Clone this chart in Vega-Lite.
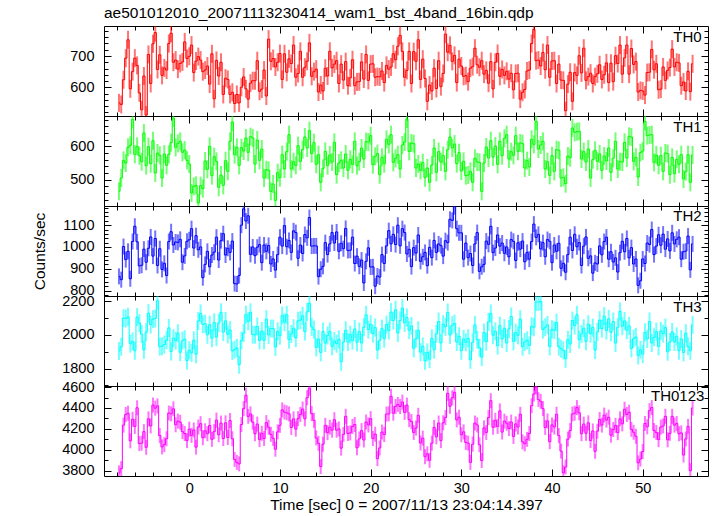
{
"$schema": "https://vega.github.io/schema/vega-lite/v6.json",
"padding": {"left": 32, "top": 5, "right": 7, "bottom": 0},
"spacing": 0,
"bounds": "flush",
"data": {"values": [
{"t":-7.75,"a":550,"b":465,"c":865,"d":1905,"e":3780},
{"t":-7.5,"a":545,"b":505,"c":850,"d":1930,"e":3820},
{"t":-7.25,"a":624,"b":558,"c":1002,"d":2100,"e":4236},
{"t":-7.0,"a":693,"b":550,"c":942,"d":2098,"e":4338},
{"t":-6.75,"a":752,"b":597,"c":980,"d":2108,"e":4350},
{"t":-6.5,"a":595,"b":603,"c":854,"d":1948,"e":4086},
{"t":-6.25,"a":650,"b":681,"c":1025,"d":1962,"e":4292},
{"t":-6.0,"a":693,"b":576,"c":1095,"d":1906,"e":4224},
{"t":-5.75,"a":670,"b":600,"c":1024,"d":2106,"e":4402},
{"t":-5.5,"a":582,"b":572,"c":913,"d":2071,"e":4060},
{"t":-5.25,"a":528,"b":554,"c":916,"d":2005,"e":4064},
{"t":-5.0,"a":636,"b":640,"c":990,"d":1912,"e":4174},
{"t":-4.75,"a":511,"b":542,"c":930,"d":2016,"e":4024},
{"t":-4.5,"a":705,"b":599,"c":994,"d":2130,"e":4296},
{"t":-4.25,"a":612,"b":548,"c":1046,"d":2062,"e":4228},
{"t":-4.0,"a":739,"b":617,"c":958,"d":2094,"e":4428},
{"t":-3.75,"a":775,"b":520,"c":1039,"d":2098,"e":4398},
{"t":-3.5,"a":657,"b":580,"c":915,"d":2204,"e":4420},
{"t":-3.25,"a":704,"b":573,"c":992,"d":1930,"e":4136},
{"t":-3.0,"a":638,"b":505,"c":897,"d":1933,"e":4028},
{"t":-2.75,"a":662,"b":577,"c":925,"d":1943,"e":4050},
{"t":-2.5,"a":655,"b":543,"c":869,"d":1968,"e":4106},
{"t":-2.25,"a":740,"b":576,"c":1025,"d":2042,"e":4352},
{"t":-2.0,"a":773,"b":611,"c":1070,"d":1901,"e":4344},
{"t":-1.75,"a":680,"b":685,"c":1009,"d":1981,"e":4392},
{"t":-1.5,"a":687,"b":597,"c":1023,"d":1966,"e":4240},
{"t":-1.25,"a":658,"b":609,"c":1021,"d":2010,"e":4274},
{"t":-1.0,"a":676,"b":615,"c":1035,"d":1897,"e":4264},
{"t":-0.75,"a":681,"b":582,"c":930,"d":1966,"e":4174},
{"t":-0.5,"a":745,"b":589,"c":959,"d":1975,"e":4156},
{"t":-0.25,"a":692,"b":558,"c":1026,"d":1847,"e":4088},
{"t":0.0,"a":699,"b":547,"c":1033,"d":1909,"e":4198},
{"t":0.25,"a":735,"b":460,"c":1084,"d":1893,"e":4138},
{"t":0.5,"a":647,"b":480,"c":995,"d":1969,"e":4190},
{"t":0.75,"a":684,"b":483,"c":1052,"d":1885,"e":4026},
{"t":1.0,"a":698,"b":430,"c":987,"d":2083,"e":4218},
{"t":1.25,"a":687,"b":482,"c":1000,"d":2128,"e":4250},
{"t":1.5,"a":650,"b":473,"c":859,"d":2063,"e":4116},
{"t":1.75,"a":655,"b":556,"c":920,"d":2067,"e":4182},
{"t":2.0,"a":668,"b":531,"c":980,"d":2001,"e":4154},
{"t":2.25,"a":610,"b":600,"c":909,"d":2061,"e":4232},
{"t":2.5,"a":707,"b":512,"c":963,"d":1981,"e":4100},
{"t":2.75,"a":563,"b":569,"c":976,"d":2075,"e":4174},
{"t":3.0,"a":686,"b":555,"c":1045,"d":1987,"e":4284},
{"t":3.25,"a":636,"b":477,"c":940,"d":2071,"e":4144},
{"t":3.5,"a":680,"b":514,"c":1029,"d":2135,"e":4256},
{"t":3.75,"a":577,"b":483,"c":1061,"d":2017,"e":4108},
{"t":4.0,"a":629,"b":557,"c":963,"d":2084,"e":4258},
{"t":4.25,"a":625,"b":525,"c":994,"d":2003,"e":4118},
{"t":4.5,"a":577,"b":615,"c":975,"d":2029,"e":4280},
{"t":4.75,"a":584,"b":673,"c":1027,"d":1905,"e":4106},
{"t":5.0,"a":548,"b":575,"c":832,"d":1913,"e":3908},
{"t":5.25,"a":577,"b":597,"c":830,"d":1923,"e":3880},
{"t":5.5,"a":550,"b":543,"c":869,"d":1823,"e":3866},
{"t":5.75,"a":600,"b":596,"c":1100,"d":1967,"e":4242},
{"t":6.0,"a":633,"b":586,"c":1175,"d":2011,"e":4394},
{"t":6.25,"a":595,"b":625,"c":1119,"d":2121,"e":4522},
{"t":6.5,"a":562,"b":582,"c":1143,"d":2081,"e":4320},
{"t":6.75,"a":613,"b":629,"c":966,"d":2135,"e":4344},
{"t":7.0,"a":621,"b":625,"c":1000,"d":2002,"e":4264},
{"t":7.25,"a":621,"b":547,"c":960,"d":2001,"e":4154},
{"t":7.5,"a":685,"b":619,"c":999,"d":2050,"e":4246},
{"t":7.75,"a":587,"b":558,"c":1011,"d":1967,"e":4098},
{"t":8.0,"a":594,"b":592,"c":928,"d":2024,"e":4158},
{"t":8.25,"a":655,"b":505,"c":1009,"d":1968,"e":4108},
{"t":8.5,"a":572,"b":530,"c":980,"d":2094,"e":4260},
{"t":8.75,"a":754,"b":528,"c":1007,"d":2000,"e":4216},
{"t":9.0,"a":683,"b":465,"c":922,"d":2038,"e":4148},
{"t":9.25,"a":692,"b":487,"c":945,"d":2038,"e":4110},
{"t":9.5,"a":665,"b":438,"c":894,"d":1928,"e":4006},
{"t":9.75,"a":680,"b":521,"c":965,"d":2022,"e":4172},
{"t":10.0,"a":708,"b":506,"c":1045,"d":1996,"e":4234},
{"t":10.25,"a":625,"b":575,"c":1004,"d":2116,"e":4382},
{"t":10.5,"a":707,"b":532,"c":1098,"d":2076,"e":4360},
{"t":10.75,"a":648,"b":584,"c":1001,"d":2120,"e":4354},
{"t":11.0,"a":691,"b":635,"c":1030,"d":1972,"e":4344},
{"t":11.25,"a":676,"b":532,"c":975,"d":2006,"e":4214},
{"t":11.5,"a":735,"b":554,"c":1074,"d":2040,"e":4296},
{"t":11.75,"a":632,"b":543,"c":1066,"d":1982,"e":4198},
{"t":12.0,"a":644,"b":602,"c":948,"d":2084,"e":4298},
{"t":12.25,"a":715,"b":555,"c":1009,"d":2088,"e":4338},
{"t":12.5,"a":632,"b":590,"c":970,"d":2114,"e":4390},
{"t":12.75,"a":664,"b":628,"c":1057,"d":2020,"e":4296},
{"t":13.0,"a":683,"b":595,"c":1042,"d":2138,"e":4498},
{"t":13.25,"a":742,"b":647,"c":1135,"d":2188,"e":4590},
{"t":13.5,"a":635,"b":578,"c":1004,"d":2048,"e":4346},
{"t":13.75,"a":650,"b":611,"c":1005,"d":2032,"e":4282},
{"t":14.0,"a":658,"b":546,"c":1005,"d":1926,"e":4114},
{"t":14.25,"a":585,"b":575,"c":864,"d":1976,"e":4062},
{"t":14.5,"a":607,"b":492,"c":898,"d":1896,"e":3840},
{"t":14.75,"a":588,"b":534,"c":911,"d":2020,"e":4054},
{"t":15.0,"a":661,"b":585,"c":1020,"d":1952,"e":4234},
{"t":15.25,"a":636,"b":542,"c":965,"d":1996,"e":4164},
{"t":15.5,"a":715,"b":574,"c":1014,"d":2020,"e":4216},
{"t":15.75,"a":662,"b":553,"c":1066,"d":1932,"e":4188},
{"t":16.0,"a":674,"b":612,"c":1018,"d":1964,"e":4288},
{"t":16.25,"a":685,"b":515,"c":1069,"d":1948,"e":4188},
{"t":16.5,"a":612,"b":550,"c":980,"d":1974,"e":4200},
{"t":16.75,"a":674,"b":558,"c":1017,"d":1840,"e":4016},
{"t":17.0,"a":623,"b":535,"c":992,"d":1958,"e":4148},
{"t":17.25,"a":682,"b":577,"c":1085,"d":2028,"e":4320},
{"t":17.5,"a":605,"b":528,"c":984,"d":1958,"e":4156},
{"t":17.75,"a":630,"b":561,"c":985,"d":2002,"e":4162},
{"t":18.0,"a":688,"b":546,"c":1045,"d":1966,"e":4224},
{"t":18.25,"a":605,"b":615,"c":924,"d":2036,"e":4242},
{"t":18.5,"a":617,"b":542,"c":958,"d":1956,"e":4020},
{"t":18.75,"a":618,"b":554,"c":911,"d":2020,"e":4104},
{"t":19.0,"a":681,"b":595,"c":940,"d":1952,"e":4184},
{"t":19.25,"a":626,"b":562,"c":835,"d":2046,"e":4094},
{"t":19.5,"a":705,"b":614,"c":934,"d":2120,"e":4266},
{"t":19.75,"a":622,"b":613,"c":996,"d":2032,"e":4238},
{"t":20.0,"a":674,"b":632,"c":908,"d":2064,"e":4298},
{"t":20.25,"a":675,"b":545,"c":909,"d":2008,"e":4108},
{"t":20.5,"a":632,"b":570,"c":820,"d":2044,"e":4150},
{"t":20.75,"a":634,"b":578,"c":867,"d":1910,"e":3916},
{"t":21.0,"a":633,"b":515,"c":862,"d":1968,"e":4018},
{"t":21.25,"a":652,"b":567,"c":965,"d":2038,"e":4170},
{"t":21.5,"a":615,"b":548,"c":924,"d":1978,"e":4146},
{"t":21.75,"a":670,"b":621,"c":1005,"d":2062,"e":4342},
{"t":22.0,"a":658,"b":606,"c":1075,"d":2026,"e":4344},
{"t":22.25,"a":665,"b":635,"c":1014,"d":2136,"e":4512},
{"t":22.5,"a":707,"b":552,"c":1058,"d":2086,"e":4350},
{"t":22.75,"a":688,"b":564,"c":1011,"d":2150,"e":4414},
{"t":23.0,"a":731,"b":575,"c":1100,"d":2012,"e":4434},
{"t":23.25,"a":766,"b":532,"c":1005,"d":2086,"e":4414},
{"t":23.5,"a":715,"b":604,"c":1084,"d":2160,"e":4456},
{"t":23.75,"a":632,"b":613,"c":1066,"d":2072,"e":4358},
{"t":24.0,"a":654,"b":682,"c":968,"d":2104,"e":4428},
{"t":24.25,"a":715,"b":585,"c":989,"d":2028,"e":4288},
{"t":24.5,"a":612,"b":610,"c":910,"d":2054,"e":4270},
{"t":24.75,"a":714,"b":608,"c":997,"d":1920,"e":4166},
{"t":25.0,"a":683,"b":535,"c":972,"d":1978,"e":4208},
{"t":25.25,"a":752,"b":547,"c":1055,"d":2028,"e":4330},
{"t":25.5,"a":625,"b":528,"c":934,"d":1898,"e":4066},
{"t":25.75,"a":690,"b":551,"c":955,"d":1932,"e":4112},
{"t":26.0,"a":628,"b":506,"c":975,"d":1846,"e":3934},
{"t":26.25,"a":555,"b":535,"c":914,"d":1896,"e":3962},
{"t":26.5,"a":607,"b":492,"c":998,"d":1856,"e":3900},
{"t":26.75,"a":588,"b":544,"c":951,"d":1980,"e":4064},
{"t":27.0,"a":661,"b":595,"c":1030,"d":1912,"e":4214},
{"t":27.25,"a":596,"b":522,"c":975,"d":2006,"e":4124},
{"t":27.5,"a":685,"b":584,"c":1014,"d":2080,"e":4256},
{"t":27.75,"a":602,"b":553,"c":1006,"d":1952,"e":4088},
{"t":28.0,"a":644,"b":572,"c":958,"d":2064,"e":4258},
{"t":28.25,"a":770,"b":525,"c":1029,"d":2048,"e":4308},
{"t":28.5,"a":712,"b":590,"c":1020,"d":2134,"e":4540},
{"t":28.75,"a":734,"b":628,"c":1127,"d":2000,"e":4416},
{"t":29.0,"a":683,"b":595,"c":1122,"d":2058,"e":4498},
{"t":29.25,"a":702,"b":607,"c":1185,"d":2068,"e":4550},
{"t":29.5,"a":615,"b":548,"c":1084,"d":1958,"e":4286},
{"t":29.75,"a":690,"b":581,"c":1065,"d":1992,"e":4312},
{"t":30.0,"a":668,"b":526,"c":1065,"d":1906,"e":4144},
{"t":30.25,"a":635,"b":555,"c":944,"d":1976,"e":4172},
{"t":30.5,"a":637,"b":512,"c":1018,"d":1956,"e":4070},
{"t":30.75,"a":618,"b":514,"c":951,"d":1980,"e":4064},
{"t":31.0,"a":661,"b":525,"c":970,"d":1852,"e":3880},
{"t":31.25,"a":666,"b":492,"c":915,"d":1956,"e":4054},
{"t":31.5,"a":725,"b":564,"c":1014,"d":2060,"e":4256},
{"t":31.75,"a":672,"b":553,"c":1066,"d":1972,"e":4238},
{"t":32.0,"a":664,"b":552,"c":888,"d":1924,"e":4048},
{"t":32.25,"a":685,"b":465,"c":909,"d":1868,"e":3898},
{"t":32.5,"a":642,"b":550,"c":920,"d":2014,"e":4210},
{"t":32.75,"a":654,"b":598,"c":1027,"d":1960,"e":4166},
{"t":33.0,"a":613,"b":565,"c":1012,"d":2078,"e":4308},
{"t":33.25,"a":682,"b":617,"c":1095,"d":2128,"e":4470},
{"t":33.5,"a":595,"b":568,"c":974,"d":1998,"e":4216},
{"t":33.75,"a":680,"b":601,"c":995,"d":2022,"e":4282},
{"t":34.0,"a":708,"b":546,"c":1055,"d":1936,"e":4224},
{"t":34.25,"a":635,"b":615,"c":1004,"d":2056,"e":4372},
{"t":34.5,"a":657,"b":572,"c":1018,"d":1976,"e":4170},
{"t":34.75,"a":638,"b":624,"c":971,"d":2040,"e":4274},
{"t":35.0,"a":651,"b":635,"c":1000,"d":1952,"e":4254},
{"t":35.25,"a":626,"b":562,"c":955,"d":2036,"e":4204},
{"t":35.5,"a":645,"b":584,"c":1034,"d":2110,"e":4266},
{"t":35.75,"a":592,"b":573,"c":1026,"d":1962,"e":4128},
{"t":36.0,"a":644,"b":632,"c":938,"d":2014,"e":4248},
{"t":36.25,"a":645,"b":585,"c":1019,"d":1998,"e":4218},
{"t":36.5,"a":562,"b":610,"c":990,"d":2094,"e":4340},
{"t":36.75,"a":584,"b":608,"c":1027,"d":1930,"e":4076},
{"t":37.0,"a":593,"b":535,"c":932,"d":1958,"e":4058},
{"t":37.25,"a":652,"b":557,"c":975,"d":1968,"e":4100},
{"t":37.5,"a":655,"b":538,"c":944,"d":1938,"e":4156},
{"t":37.75,"a":740,"b":621,"c":1025,"d":2052,"e":4422},
{"t":38.0,"a":785,"b":606,"c":1105,"d":2046,"e":4534},
{"t":38.25,"a":685,"b":675,"c":1044,"d":2196,"e":4600},
{"t":38.5,"a":687,"b":592,"c":1058,"d":2196,"e":4480},
{"t":38.75,"a":668,"b":604,"c":991,"d":2200,"e":4464},
{"t":39.0,"a":711,"b":615,"c":1020,"d":2032,"e":4394},
{"t":39.25,"a":656,"b":532,"c":955,"d":2046,"e":4214},
{"t":39.5,"a":735,"b":554,"c":1034,"d":2060,"e":4276},
{"t":39.75,"a":632,"b":513,"c":1026,"d":1932,"e":4078},
{"t":40.0,"a":684,"b":572,"c":928,"d":2034,"e":4238},
{"t":40.25,"a":685,"b":525,"c":1009,"d":2028,"e":4218},
{"t":40.5,"a":612,"b":590,"c":980,"d":2074,"e":4340},
{"t":40.75,"a":674,"b":588,"c":1017,"d":1930,"e":4136},
{"t":41.0,"a":623,"b":505,"c":902,"d":1918,"e":3988},
{"t":41.25,"a":622,"b":507,"c":925,"d":1908,"e":3780},
{"t":41.5,"a":525,"b":488,"c":884,"d":1858,"e":3836},
{"t":41.75,"a":610,"b":571,"c":965,"d":1972,"e":4102},
{"t":42.0,"a":648,"b":566,"c":1045,"d":1946,"e":4184},
{"t":42.25,"a":555,"b":655,"c":984,"d":2086,"e":4342},
{"t":42.5,"a":647,"b":642,"c":1058,"d":2056,"e":4350},
{"t":42.75,"a":638,"b":644,"c":1001,"d":2120,"e":4404},
{"t":43.0,"a":701,"b":645,"c":1020,"d":1972,"e":4354},
{"t":43.25,"a":646,"b":562,"c":915,"d":2006,"e":4154},
{"t":43.5,"a":725,"b":584,"c":1004,"d":2040,"e":4246},
{"t":43.75,"a":622,"b":553,"c":1046,"d":1962,"e":4158},
{"t":44.0,"a":634,"b":592,"c":948,"d":2064,"e":4258},
{"t":44.25,"a":645,"b":505,"c":959,"d":2008,"e":4088},
{"t":44.5,"a":612,"b":560,"c":880,"d":2044,"e":4180},
{"t":44.75,"a":634,"b":588,"c":927,"d":1910,"e":3986},
{"t":45.0,"a":643,"b":555,"c":922,"d":2018,"e":4178},
{"t":45.25,"a":672,"b":577,"c":1005,"d":2088,"e":4290},
{"t":45.5,"a":625,"b":528,"c":964,"d":2038,"e":4236},
{"t":45.75,"a":640,"b":571,"c":1025,"d":2112,"e":4332},
{"t":46.0,"a":678,"b":556,"c":1045,"d":2026,"e":4284},
{"t":46.25,"a":615,"b":595,"c":944,"d":2096,"e":4312},
{"t":46.5,"a":677,"b":522,"c":978,"d":2016,"e":4140},
{"t":46.75,"a":618,"b":564,"c":931,"d":2080,"e":4194},
{"t":47.0,"a":701,"b":615,"c":950,"d":1952,"e":4234},
{"t":47.25,"a":676,"b":532,"c":885,"d":2046,"e":4164},
{"t":47.5,"a":735,"b":554,"c":974,"d":2140,"e":4296},
{"t":47.75,"a":642,"b":553,"c":1026,"d":2052,"e":4248},
{"t":48.0,"a":694,"b":612,"c":978,"d":2084,"e":4388},
{"t":48.25,"a":735,"b":565,"c":1039,"d":2028,"e":4338},
{"t":48.5,"a":642,"b":630,"c":950,"d":2054,"e":4360},
{"t":48.75,"a":724,"b":628,"c":997,"d":1920,"e":4196},
{"t":49.0,"a":673,"b":555,"c":922,"d":1978,"e":4168},
{"t":49.25,"a":682,"b":567,"c":945,"d":1988,"e":4130},
{"t":49.5,"a":585,"b":508,"c":824,"d":1878,"e":3876},
{"t":49.75,"a":590,"b":581,"c":845,"d":1912,"e":3912},
{"t":50.0,"a":588,"b":586,"c":945,"d":1886,"e":3984},
{"t":50.25,"a":575,"b":675,"c":924,"d":2016,"e":4252},
{"t":50.5,"a":647,"b":632,"c":1018,"d":1976,"e":4220},
{"t":50.75,"a":648,"b":634,"c":1011,"d":2080,"e":4374},
{"t":51.0,"a":721,"b":635,"c":1080,"d":1952,"e":4404},
{"t":51.25,"a":656,"b":552,"c":965,"d":1986,"e":4184},
{"t":51.5,"a":675,"b":574,"c":1004,"d":2020,"e":4166},
{"t":51.75,"a":592,"b":543,"c":1056,"d":1932,"e":4098},
{"t":52.0,"a":594,"b":572,"c":1008,"d":2024,"e":4218},
{"t":52.25,"a":665,"b":525,"c":1059,"d":2008,"e":4228},
{"t":52.5,"a":622,"b":580,"c":990,"d":2044,"e":4320},
{"t":52.75,"a":654,"b":578,"c":1037,"d":1900,"e":4096},
{"t":53.0,"a":663,"b":515,"c":982,"d":1958,"e":4158},
{"t":53.25,"a":722,"b":567,"c":1065,"d":2018,"e":4320},
{"t":53.5,"a":665,"b":518,"c":1014,"d":1958,"e":4236},
{"t":53.75,"a":680,"b":561,"c":1035,"d":1992,"e":4252},
{"t":54.0,"a":678,"b":546,"c":1045,"d":1906,"e":4154},
{"t":54.25,"a":605,"b":575,"c":944,"d":1976,"e":4162},
{"t":54.5,"a":617,"b":502,"c":978,"d":1896,"e":3950},
{"t":54.75,"a":588,"b":524,"c":981,"d":2010,"e":4104},
{"t":55.0,"a":651,"b":575,"c":1050,"d":1932,"e":4224},
{"t":55.25,"a":586,"b":492,"c":895,"d":1906,"e":3800},
{"t":55.5,"a":675,"b":574,"c":1014,"d":2060,"e":4400}
]},
"vconcat": [
{
"width": 604, "height": 90,
"title": {"text": "ae501012010_20071113230414_wam1_bst_4band_16bin.qdp", "anchor": "start", "frame": "group", "fontSize": 15.5, "fontWeight": "normal", "font": "Liberation Sans", "color": "#000", "offset": 4},
"resolve": {"axis": {"x": "independent", "y": "independent"}},
"layer": [
{"mark": {"type": "tick", "orient": "vertical", "size": 18, "thickness": 2, "color": "#ff0000", "opacity": 0.55, "clip": true},
 "encoding": {
  "x": {"field": "t", "type": "quantitative", "scale": {"domain": [-9.4, 57.2], "nice": false, "zero": false}, "axis": {"orient": "bottom", "values": [0,10,20,30,40,50], "tickSize": -7, "title": null}},
  "y": {"field": "a", "type": "quantitative", "scale": {"domain": [508, 796], "nice": false, "zero": false}, "axis": {"orient": "left", "values": [600,700], "tickSize": -7, "labels": true, "labelPadding": 17, "title": null}}}},
{"mark": {"type": "line", "interpolate": "step", "color": "#ff0000", "strokeWidth": 1, "clip": true},
 "encoding": {
  "x": {"field": "t", "type": "quantitative", "scale": {"domain": [-9.4, 57.2], "nice": false, "zero": false}, "axis": {"orient": "bottom", "values": [-8,-6,-4,-2,2,4,6,8,12,14,16,18,22,24,26,28,32,34,36,38,42,44,46,48,52,54,56], "tickSize": -4, "title": null}},
  "y": {"field": "a", "type": "quantitative", "scale": {"domain": [508, 796], "nice": false, "zero": false}, "axis": {"orient": "left", "values": [520,540,560,580,620,640,660,680,720,740,760,780], "tickSize": -4, "title": null}}}},
{"data": {"values": [{"label": "TH0"}]},
 "mark": {"type": "text", "align": "right", "baseline": "middle", "fontSize": 15, "font": "Liberation Sans", "color": "#000"},
 "encoding": {
  "text": {"field": "label"},
  "x": {"datum": 56.5, "type": "quantitative", "scale": {"domain": [-9.4, 57.2], "nice": false, "zero": false}, "axis": {"orient": "top", "values": [0,10,20,30,40,50], "tickSize": -7, "title": null}},
  "y": {"datum": 762, "type": "quantitative", "scale": {"domain": [508, 796], "nice": false, "zero": false}, "axis": {"orient": "right", "values": [600,700], "tickSize": -7, "title": null}}}},
{"mark": {"type": "point", "opacity": 0},
 "encoding": {
  "x": {"field": "t", "type": "quantitative", "scale": {"domain": [-9.4, 57.2], "nice": false, "zero": false}, "axis": {"orient": "top", "values": [-8,-6,-4,-2,2,4,6,8,12,14,16,18,22,24,26,28,32,34,36,38,42,44,46,48,52,54,56], "tickSize": -4, "title": null}},
  "y": {"field": "a", "type": "quantitative", "scale": {"domain": [508, 796], "nice": false, "zero": false}, "axis": {"orient": "right", "values": [520,540,560,580,620,640,660,680,720,740,760,780], "tickSize": -4, "title": null}}}}
]
},
{
"width": 604, "height": 90,
"resolve": {"axis": {"x": "independent", "y": "independent"}},
"layer": [
{"mark": {"type": "tick", "orient": "vertical", "size": 18, "thickness": 2, "color": "#00ff00", "opacity": 0.55, "clip": true},
 "encoding": {
  "x": {"field": "t", "type": "quantitative", "scale": {"domain": [-9.4, 57.2], "nice": false, "zero": false}, "axis": {"orient": "bottom", "values": [0,10,20,30,40,50], "tickSize": -7, "title": null}},
  "y": {"field": "b", "type": "quantitative", "scale": {"domain": [421, 691], "nice": false, "zero": false}, "axis": {"orient": "left", "values": [500,600], "tickSize": -7, "labels": true, "labelPadding": 17, "title": null}}}},
{"mark": {"type": "line", "interpolate": "step", "color": "#00ff00", "strokeWidth": 1, "clip": true},
 "encoding": {
  "x": {"field": "t", "type": "quantitative", "scale": {"domain": [-9.4, 57.2], "nice": false, "zero": false}, "axis": {"orient": "bottom", "values": [-8,-6,-4,-2,2,4,6,8,12,14,16,18,22,24,26,28,32,34,36,38,42,44,46,48,52,54,56], "tickSize": -4, "title": null}},
  "y": {"field": "b", "type": "quantitative", "scale": {"domain": [421, 691], "nice": false, "zero": false}, "axis": {"orient": "left", "values": [440,460,480,520,540,560,580,620,640,660,680], "tickSize": -4, "title": null}}}},
{"data": {"values": [{"label": "TH1"}]},
 "mark": {"type": "text", "align": "right", "baseline": "middle", "fontSize": 15, "font": "Liberation Sans", "color": "#000"},
 "encoding": {
  "text": {"field": "label"},
  "x": {"datum": 56.5, "type": "quantitative", "scale": {"domain": [-9.4, 57.2], "nice": false, "zero": false}, "axis": {"orient": "top", "values": [0,10,20,30,40,50], "tickSize": -7, "title": null}},
  "y": {"datum": 659, "type": "quantitative", "scale": {"domain": [421, 691], "nice": false, "zero": false}, "axis": {"orient": "right", "values": [500,600], "tickSize": -7, "title": null}}}},
{"mark": {"type": "point", "opacity": 0},
 "encoding": {
  "x": {"field": "t", "type": "quantitative", "scale": {"domain": [-9.4, 57.2], "nice": false, "zero": false}, "axis": {"orient": "top", "values": [-8,-6,-4,-2,2,4,6,8,12,14,16,18,22,24,26,28,32,34,36,38,42,44,46,48,52,54,56], "tickSize": -4, "title": null}},
  "y": {"field": "b", "type": "quantitative", "scale": {"domain": [421, 691], "nice": false, "zero": false}, "axis": {"orient": "right", "values": [440,460,480,520,540,560,580,620,640,660,680], "tickSize": -4, "title": null}}}}
]
},
{
"width": 604, "height": 90,
"resolve": {"axis": {"x": "independent", "y": "independent"}},
"layer": [
{"mark": {"type": "tick", "orient": "vertical", "size": 16, "thickness": 2, "color": "#0000ff", "opacity": 0.55, "clip": true},
 "encoding": {
  "x": {"field": "t", "type": "quantitative", "scale": {"domain": [-9.4, 57.2], "nice": false, "zero": false}, "axis": {"orient": "bottom", "values": [0,10,20,30,40,50], "tickSize": -7, "title": null}},
  "y": {"field": "c", "type": "quantitative", "scale": {"domain": [775, 1188], "nice": false, "zero": false}, "axis": {"orient": "left", "values": [800,900,1000,1100], "tickSize": -7, "labels": true, "labelPadding": 17, "title": "Counts/sec", "titlePadding": 14}}}},
{"mark": {"type": "line", "interpolate": "step", "color": "#0000ff", "strokeWidth": 1, "clip": true},
 "encoding": {
  "x": {"field": "t", "type": "quantitative", "scale": {"domain": [-9.4, 57.2], "nice": false, "zero": false}, "axis": {"orient": "bottom", "values": [-8,-6,-4,-2,2,4,6,8,12,14,16,18,22,24,26,28,32,34,36,38,42,44,46,48,52,54,56], "tickSize": -4, "title": null}},
  "y": {"field": "c", "type": "quantitative", "scale": {"domain": [775, 1188], "nice": false, "zero": false}, "axis": {"orient": "left", "values": [780,820,840,860,880,920,940,960,980,1020,1040,1060,1080,1120,1140,1160,1180], "tickSize": -4, "title": null}}}},
{"data": {"values": [{"label": "TH2"}]},
 "mark": {"type": "text", "align": "right", "baseline": "middle", "fontSize": 15, "font": "Liberation Sans", "color": "#000"},
 "encoding": {
  "text": {"field": "label"},
  "x": {"datum": 56.5, "type": "quantitative", "scale": {"domain": [-9.4, 57.2], "nice": false, "zero": false}, "axis": {"orient": "top", "values": [0,10,20,30,40,50], "tickSize": -7, "title": null}},
  "y": {"datum": 1140, "type": "quantitative", "scale": {"domain": [775, 1188], "nice": false, "zero": false}, "axis": {"orient": "right", "values": [800,900,1000,1100], "tickSize": -7, "title": null}}}},
{"mark": {"type": "point", "opacity": 0},
 "encoding": {
  "x": {"field": "t", "type": "quantitative", "scale": {"domain": [-9.4, 57.2], "nice": false, "zero": false}, "axis": {"orient": "top", "values": [-8,-6,-4,-2,2,4,6,8,12,14,16,18,22,24,26,28,32,34,36,38,42,44,46,48,52,54,56], "tickSize": -4, "title": null}},
  "y": {"field": "c", "type": "quantitative", "scale": {"domain": [775, 1188], "nice": false, "zero": false}, "axis": {"orient": "right", "values": [780,820,840,860,880,920,940,960,980,1020,1040,1060,1080,1120,1140,1160,1180], "tickSize": -4, "title": null}}}}
]
},
{
"width": 604, "height": 90,
"resolve": {"axis": {"x": "independent", "y": "independent"}},
"layer": [
{"mark": {"type": "tick", "orient": "vertical", "size": 18, "thickness": 2, "color": "#00ffff", "opacity": 0.55, "clip": true},
 "encoding": {
  "x": {"field": "t", "type": "quantitative", "scale": {"domain": [-9.4, 57.2], "nice": false, "zero": false}, "axis": {"orient": "bottom", "values": [0,10,20,30,40,50], "tickSize": -7, "title": null}},
  "y": {"field": "d", "type": "quantitative", "scale": {"domain": [1696, 2232], "nice": false, "zero": false}, "axis": {"orient": "left", "values": [1800,2000,2200], "tickSize": -7, "labels": true, "labelPadding": 17, "title": null}}}},
{"mark": {"type": "line", "interpolate": "step", "color": "#00ffff", "strokeWidth": 1, "clip": true},
 "encoding": {
  "x": {"field": "t", "type": "quantitative", "scale": {"domain": [-9.4, 57.2], "nice": false, "zero": false}, "axis": {"orient": "bottom", "values": [-8,-6,-4,-2,2,4,6,8,12,14,16,18,22,24,26,28,32,34,36,38,42,44,46,48,52,54,56], "tickSize": -4, "title": null}},
  "y": {"field": "d", "type": "quantitative", "scale": {"domain": [1696, 2232], "nice": false, "zero": false}, "axis": {"orient": "left", "values": [1700,1900,2100], "tickSize": -4, "title": null}}}},
{"data": {"values": [{"label": "TH3"}]},
 "mark": {"type": "text", "align": "right", "baseline": "middle", "fontSize": 15, "font": "Liberation Sans", "color": "#000"},
 "encoding": {
  "text": {"field": "label"},
  "x": {"datum": 56.5, "type": "quantitative", "scale": {"domain": [-9.4, 57.2], "nice": false, "zero": false}, "axis": {"orient": "top", "values": [0,10,20,30,40,50], "tickSize": -7, "title": null}},
  "y": {"datum": 2169, "type": "quantitative", "scale": {"domain": [1696, 2232], "nice": false, "zero": false}, "axis": {"orient": "right", "values": [1800,2000,2200], "tickSize": -7, "title": null}}}},
{"mark": {"type": "point", "opacity": 0},
 "encoding": {
  "x": {"field": "t", "type": "quantitative", "scale": {"domain": [-9.4, 57.2], "nice": false, "zero": false}, "axis": {"orient": "top", "values": [-8,-6,-4,-2,2,4,6,8,12,14,16,18,22,24,26,28,32,34,36,38,42,44,46,48,52,54,56], "tickSize": -4, "title": null}},
  "y": {"field": "d", "type": "quantitative", "scale": {"domain": [1696, 2232], "nice": false, "zero": false}, "axis": {"orient": "right", "values": [1700,1900,2100], "tickSize": -4, "title": null}}}}
]
},
{
"width": 604, "height": 90,
"resolve": {"axis": {"x": "independent", "y": "independent"}},
"layer": [
{"mark": {"type": "tick", "orient": "vertical", "size": 15, "thickness": 2, "color": "#ff00ff", "opacity": 0.55, "clip": true},
 "encoding": {
  "x": {"field": "t", "type": "quantitative", "scale": {"domain": [-9.4, 57.2], "nice": false, "zero": false}, "axis": {"orient": "bottom", "values": [0,10,20,30,40,50], "tickSize": -7, "labels": true, "labelPadding": 12, "title": "Time [sec] 0 = 2007/11/13 23:04:14.397", "titlePadding": 3}},
  "y": {"field": "e", "type": "quantitative", "scale": {"domain": [3750, 4610], "nice": false, "zero": false}, "axis": {"orient": "left", "values": [3800,4000,4200,4400,4600], "tickSize": -7, "labels": true, "labelPadding": 17, "title": null}}}},
{"mark": {"type": "line", "interpolate": "step", "color": "#ff00ff", "strokeWidth": 1, "clip": true},
 "encoding": {
  "x": {"field": "t", "type": "quantitative", "scale": {"domain": [-9.4, 57.2], "nice": false, "zero": false}, "axis": {"orient": "bottom", "values": [-8,-6,-4,-2,2,4,6,8,12,14,16,18,22,24,26,28,32,34,36,38,42,44,46,48,52,54,56], "tickSize": -4, "title": null}},
  "y": {"field": "e", "type": "quantitative", "scale": {"domain": [3750, 4610], "nice": false, "zero": false}, "axis": {"orient": "left", "values": [3900,4100,4300,4500], "tickSize": -4, "title": null}}}},
{"data": {"values": [{"label": "TH0123"}]},
 "mark": {"type": "text", "align": "right", "baseline": "middle", "fontSize": 15, "font": "Liberation Sans", "color": "#000"},
 "encoding": {
  "text": {"field": "label"},
  "x": {"datum": 56.8, "type": "quantitative", "scale": {"domain": [-9.4, 57.2], "nice": false, "zero": false}, "axis": {"orient": "top", "values": [0,10,20,30,40,50], "tickSize": -7, "title": null}},
  "y": {"datum": 4515, "type": "quantitative", "scale": {"domain": [3750, 4610], "nice": false, "zero": false}, "axis": {"orient": "right", "values": [3800,4000,4200,4400,4600], "tickSize": -7, "title": null}}}},
{"mark": {"type": "point", "opacity": 0},
 "encoding": {
  "x": {"field": "t", "type": "quantitative", "scale": {"domain": [-9.4, 57.2], "nice": false, "zero": false}, "axis": {"orient": "top", "values": [-8,-6,-4,-2,2,4,6,8,12,14,16,18,22,24,26,28,32,34,36,38,42,44,46,48,52,54,56], "tickSize": -4, "title": null}},
  "y": {"field": "e", "type": "quantitative", "scale": {"domain": [3750, 4610], "nice": false, "zero": false}, "axis": {"orient": "right", "values": [3900,4100,4300,4500], "tickSize": -4, "title": null}}}}
]
}
],
"config": {
 "font": "Liberation Sans",
 "view": {"stroke": "#000", "strokeWidth": 1},
 "concat": {"spacing": 0},
 "axis": {"domain": false, "grid": false, "labels": false, "format": "d", "tickColor": "#000", "tickWidth": 1, "labelColor": "#000", "labelFont": "Liberation Sans", "labelFontSize": 14.5, "titleFont": "Liberation Sans", "titleFontSize": 15.5, "titleFontWeight": "normal", "titleColor": "#000", "labelOverlap": false, "labelFlush": false}
}
}
